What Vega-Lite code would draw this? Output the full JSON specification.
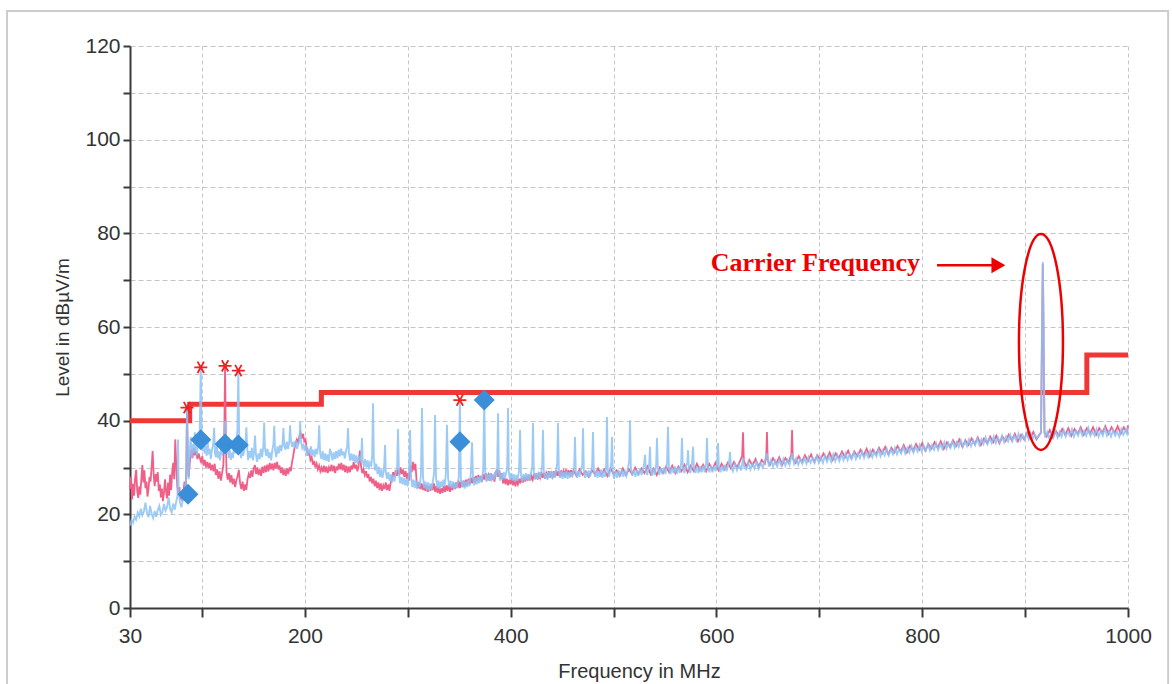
{
"$schema":"https://vega.github.io/schema/vega-lite/v6.json",
"width":998,"height":562,
"autosize":{"type":"none"},
"padding":{"left":130,"top":46,"right":44,"bottom":76},
"background":"white",
"config":{"view":{"stroke":null},"font":"Liberation Sans"},
"datasets":{
"one":[{}],
"limit":[{"f":30,"L":40},{"f":88,"L":43.5},{"f":216,"L":46},{"f":960,"L":54},{"f":1000,"L":54}],
"finals":[{"f":86.4,"L":24.3},{"f":98.8,"L":35.9},{"f":122.4,"L":35},{"f":135.3,"L":34.8},{"f":350.6,"L":35.5},{"f":374.3,"L":44.4}],
"peaks":[{"f":85.4,"L":42.8},{"f":98.8,"L":51.4},{"f":122.4,"L":51.7},{"f":135.3,"L":50.7},{"f":350.6,"L":44.4}],
"hor":[
{"f":30,"L":25.5},{"f":31,"L":28},{"f":32,"L":23.2},{"f":33,"L":26.5},{"f":34,"L":24},{"f":35,"L":27.8},{"f":36,"L":29.5},{"f":37,"L":25},{"f":38,"L":23.5},{"f":39,"L":26},{"f":40,"L":24.2},{"f":41,"L":27.5},{"f":42,"L":30.5},{"f":43,"L":26.8},{"f":44,"L":29.4},{"f":45,"L":25.6},{"f":46,"L":27},{"f":47,"L":23.8},{"f":48,"L":25.5},{"f":49,"L":28},{"f":50,"L":27},{"f":51,"L":30},{"f":52,"L":33.5},{"f":53,"L":28.5},{"f":54,"L":26},{"f":55,"L":28.6},{"f":56,"L":27},{"f":57,"L":29},{"f":58,"L":25},{"f":59,"L":26.4},{"f":60,"L":23.6},{"f":61,"L":25.5},{"f":62,"L":22.8},{"f":63,"L":24.6},{"f":64,"L":27.5},{"f":65,"L":25},{"f":66,"L":23.4},{"f":67,"L":26.8},{"f":68,"L":24},{"f":69,"L":28.5},{"f":70,"L":25.2},{"f":71,"L":29},{"f":72,"L":31},{"f":73,"L":27.5},{"f":74,"L":36},{"f":75,"L":30},{"f":76,"L":26},{"f":77,"L":24},{"f":78,"L":25.8},{"f":79,"L":23.2},{"f":80,"L":24.8},{"f":81,"L":22.8},{"f":82,"L":25},{"f":83,"L":27},{"f":84,"L":24.5},{"f":84.8,"L":30},{"f":85.4,"L":42.8},{"f":86.2,"L":31},{"f":87,"L":28},
{"f":88.3,"L":31.5},{"f":89.5,"L":33.8},{"f":90.7,"L":32},{"f":91.9,"L":34.2},{"f":93.1,"L":32.6},{"f":94.3,"L":33.5},{"f":95.5,"L":31.8},{"f":96.7,"L":33},{"f":97.9,"L":32},{"f":99.1,"L":31.2},{"f":100.3,"L":32.4},{"f":101.5,"L":30.4},{"f":102.7,"L":31.6},{"f":103.9,"L":30},{"f":105.1,"L":31.2},{"f":106.3,"L":29.8},{"f":107.5,"L":31},{"f":108.7,"L":29.4},{"f":109.9,"L":30.6},{"f":111.1,"L":29.2},{"f":112.3,"L":30.8},{"f":113.5,"L":28.4},{"f":114.7,"L":29.6},{"f":115.9,"L":27.6},{"f":117.1,"L":29.2},{"f":118.3,"L":27.2},{"f":119.5,"L":28.8},{"f":120.7,"L":30.5},{"f":121.7,"L":38},{"f":122.4,"L":51.7},{"f":123.1,"L":37},{"f":123.8,"L":29},{"f":125,"L":27.4},{"f":126.2,"L":28.8},{"f":127.4,"L":26.8},{"f":128.6,"L":28.4},{"f":129.8,"L":26.4},{"f":131,"L":27.6},{"f":132.2,"L":25.8},{"f":133.4,"L":27.2},{"f":134.6,"L":28.2},{"f":135.8,"L":29.5},{"f":137,"L":26.6},{"f":138.2,"L":25.4},{"f":139.4,"L":27},{"f":140.6,"L":25},{"f":141.8,"L":26.4},{"f":143,"L":25.2},{"f":144.2,"L":27.4},{"f":145.4,"L":28.6},{"f":146.6,"L":27.8},{"f":147.8,"L":29.4},{"f":149,"L":28},{"f":150.2,"L":29.8},{"f":151.4,"L":30.5},{"f":152.6,"L":28.6},{"f":153.8,"L":30},{"f":155,"L":28.4},{"f":156.2,"L":29.6},{"f":157.4,"L":28.2},{"f":158.6,"L":30.2},{"f":159.8,"L":28.8},{"f":161,"L":30.4},{"f":162.2,"L":29},{"f":163.4,"L":30.6},{"f":164.6,"L":29.2},{"f":165.8,"L":31},{"f":167,"L":29.6},{"f":168.2,"L":30.8},{"f":169.4,"L":29.4},{"f":170.6,"L":31},{"f":171.8,"L":29.8},{"f":173,"L":31.2},{"f":174.2,"L":29.6},{"f":175.4,"L":30.4},{"f":176.6,"L":28.8},{"f":177.8,"L":30},{"f":179,"L":28.4},{"f":180.2,"L":29.6},{"f":181.4,"L":28.2},{"f":182.6,"L":29.8},{"f":183.8,"L":28.6},{"f":185,"L":30},{"f":186.2,"L":29.2},{"f":187.4,"L":31},{"f":188.6,"L":32.4},{"f":189.8,"L":34},{"f":191,"L":35.2},{"f":192.2,"L":36},{"f":193.4,"L":35.4},{"f":194.6,"L":36.6},{"f":195.8,"L":37.4},{"f":197,"L":36.2},{"f":198.2,"L":37.2},{"f":199.4,"L":35.6},{"f":200.6,"L":36},{"f":201.8,"L":34},{"f":203,"L":32.6},{"f":204.2,"L":33.4},{"f":205.4,"L":31.6},{"f":206.6,"L":32.2},{"f":207.8,"L":30.6},{"f":209,"L":31.4},{"f":210.2,"L":30},{"f":211.4,"L":30.8},{"f":212.6,"L":29.6},{"f":213.8,"L":30.4},{"f":215,"L":29.2},{"f":216.2,"L":30},{"f":217.4,"L":29},{"f":218.6,"L":30.4},{"f":219.8,"L":29},{"f":221,"L":30.2},{"f":222.2,"L":28.8},{"f":223.4,"L":30},{"f":224.6,"L":29.2},{"f":225.8,"L":30.6},{"f":227,"L":29.2},{"f":228.2,"L":30.4},{"f":229.4,"L":28.8},{"f":230.6,"L":30.2},{"f":231.8,"L":29.4},{"f":233,"L":30.8},{"f":234.2,"L":29.6},{"f":235.4,"L":31},{"f":236.6,"L":29.4},{"f":237.8,"L":30.6},{"f":239,"L":29},{"f":240.2,"L":30.4},{"f":241.4,"L":28.8},{"f":242.6,"L":30.2},{"f":243.8,"L":29},{"f":245,"L":30.4},{"f":246.2,"L":29.6},{"f":247.4,"L":31.2},{"f":248.6,"L":29.8},{"f":249.8,"L":30.6},{"f":251,"L":29.2},{"f":252.2,"L":30.4},{"f":253.4,"L":33.6},{"f":254.6,"L":30.2},{"f":255.8,"L":28.8},{"f":257,"L":29.6},{"f":258.2,"L":28.4},{"f":259.4,"L":29.2},{"f":260.6,"L":27.8},{"f":261.8,"L":28.6},{"f":263,"L":27},{"f":264.2,"L":28},{"f":265.4,"L":26.6},{"f":266.6,"L":27.6},{"f":267.8,"L":26},{"f":269,"L":27.2},{"f":270.2,"L":25.6},{"f":271.4,"L":26.8},{"f":272.6,"L":25.2},{"f":273.8,"L":26.6},{"f":275,"L":25},{"f":276.2,"L":26.2},{"f":277.4,"L":25.4},{"f":278.6,"L":26.8},{"f":279.8,"L":25.2},{"f":281,"L":26.4},{"f":282.2,"L":25},{"f":283.4,"L":26.8},{"f":284.6,"L":27.6},{"f":285.8,"L":29},{"f":287,"L":28},{"f":288.2,"L":29.4},{"f":289.4,"L":28.2},{"f":290.6,"L":29.6},{"f":291.8,"L":28.4},{"f":293,"L":30},{"f":294.2,"L":28.6},{"f":295.4,"L":29.6},{"f":296.6,"L":28},{"f":297.8,"L":29.2},{"f":299,"L":27.6},{"f":300.2,"L":28.8},{"f":301.4,"L":27.2},{"f":302.6,"L":30.4},{"f":303.8,"L":29},{"f":305,"L":31.2},{"f":306.2,"L":29.4},{"f":307.4,"L":30.8},{"f":308.6,"L":27},{"f":309.8,"L":25.6},{"f":311,"L":26.8},{"f":312.2,"L":25.4},{"f":313.4,"L":26.6},{"f":314.6,"L":25.2},{"f":315.8,"L":26.4},{"f":317,"L":25},{"f":318.2,"L":26.2},{"f":319.4,"L":24.8},{"f":320.6,"L":26},{"f":321.8,"L":25},{"f":323,"L":26.4},{"f":324.2,"L":25.2},{"f":325.4,"L":26.6},{"f":326.6,"L":24.8},{"f":327.8,"L":26},{"f":329,"L":24.6},{"f":330.2,"L":25.8},{"f":331.4,"L":24.4},{"f":332.6,"L":25.6},{"f":333.8,"L":24.6},{"f":335,"L":26},{"f":336.2,"L":24.8},{"f":337.4,"L":26.2},{"f":338.6,"L":25},{"f":339.8,"L":26.4},{"f":341,"L":24.8},{"f":342.2,"L":26.2},{"f":343.4,"L":25.2},{"f":344.6,"L":26.6},{"f":345.8,"L":25.4},{"f":347,"L":26.8},{"f":348.2,"L":25.6},{"f":349.4,"L":27.2},{"f":350.6,"L":25.6},{"f":351.8,"L":27},{"f":353,"L":25.8},{"f":354.2,"L":27.2},{"f":355.4,"L":26},{"f":356.6,"L":27.4},{"f":357.8,"L":26.2},{"f":359,"L":27.6},{"f":360.2,"L":26.4},{"f":361.4,"L":27.8},{"f":362.6,"L":26.6},{"f":363.8,"L":28},{"f":365,"L":26.8},{"f":366.2,"L":28.2},{"f":367.4,"L":27},{"f":368.6,"L":28.4},{"f":369.8,"L":27.2},{"f":371,"L":28.2},{"f":372.2,"L":27},{"f":373.4,"L":28.6},{"f":374.6,"L":27.4},{"f":375.8,"L":28.8},{"f":377,"L":27.6},{"f":378.2,"L":28.4},{"f":379.4,"L":27.2},{"f":380.6,"L":28.8},{"f":381.8,"L":27.4},{"f":383,"L":28.4},{"f":384.2,"L":27},{"f":385.4,"L":28.8},{"f":386.6,"L":29.6},{"f":387.8,"L":28},{"f":389,"L":29.4},{"f":390.2,"L":27.6},{"f":391.4,"L":28.8},{"f":392.6,"L":26.6},{"f":393.8,"L":27.8},{"f":395,"L":26.4},{"f":396.2,"L":27.6},{"f":397.4,"L":26.2},{"f":398.6,"L":27.4},{"f":399.8,"L":26.4},{"f":401,"L":27.8},{"f":402.2,"L":26.2},{"f":403.4,"L":27.4},{"f":404.6,"L":26},{"f":405.8,"L":27.2},{"f":407,"L":26.4},{"f":408.2,"L":27.6},{"f":409.4,"L":26.6},{"f":410.6,"L":27.8},{"f":411.8,"L":26.8},{"f":413,"L":28},{"f":414.2,"L":27},{"f":415.4,"L":28.2},{"f":416.6,"L":27.2},{"f":417.8,"L":28.4},{"f":419,"L":27.2},{"f":420.2,"L":28.2},{"f":421.4,"L":27.4},{"f":422.6,"L":28.6},{"f":423.8,"L":27.6},{"f":425,"L":28.8},{"f":426.2,"L":27.4},{"f":427.4,"L":28.6},{"f":428.6,"L":27.8},{"f":429.8,"L":29},{"f":431,"L":27.8},{"f":432.2,"L":28.8},{"f":433.4,"L":27.6},{"f":434.6,"L":28.8},{"f":435.8,"L":28},{"f":437,"L":29.2},{"f":438.2,"L":27.8},{"f":439.4,"L":28.8},{"f":440.6,"L":28},{"f":441.8,"L":29.2},{"f":443,"L":28},{"f":444.2,"L":29.4},{"f":445.4,"L":28.2},{"f":446.6,"L":29.2},{"f":447.8,"L":28},{"f":449,"L":29.4},{"f":450.2,"L":28.2},{"f":451.4,"L":29.2},{"f":452.6,"L":28.4},{"f":453.8,"L":29.6},{"f":455,"L":28.4},{"f":456.2,"L":29.4},{"f":457.4,"L":28.2},{"f":458.6,"L":29.4},{"f":459.8,"L":28.4},
{"f":461,"L":29.4},{"f":464,"L":28.2},{"f":467,"L":29.6},{"f":470,"L":28.4},{"f":473,"L":29.2},{"f":476,"L":28},{"f":479,"L":29.4},{"f":482,"L":28.6},{"f":485,"L":29.8},{"f":488,"L":28.4},{"f":491,"L":29.6},{"f":494,"L":28.2},{"f":497,"L":29.8},{"f":500,"L":28.6},{"f":503,"L":29.4},{"f":506,"L":28.2},{"f":509,"L":29.8},{"f":512,"L":28.4},{"f":515,"L":29.6},{"f":518,"L":28.6},{"f":521,"L":30},{"f":524,"L":28.6},{"f":527,"L":29.8},{"f":530,"L":28.8},{"f":533,"L":30.2},{"f":536,"L":28.6},{"f":539,"L":29.8},{"f":542,"L":28.4},{"f":545,"L":30},{"f":548,"L":28.8},{"f":551,"L":30.2},{"f":554,"L":29},{"f":557,"L":30.4},{"f":560,"L":28.8},{"f":563,"L":30.2},{"f":566,"L":29.2},{"f":569,"L":30.6},{"f":572,"L":29},{"f":575,"L":30.4},{"f":578,"L":29.2},{"f":581,"L":30.8},{"f":584,"L":29.4},{"f":587,"L":30.6},{"f":590,"L":29.2},{"f":593,"L":30.8},{"f":596,"L":29.6},{"f":599,"L":31},{"f":602,"L":29.4},{"f":605,"L":30.8},{"f":608,"L":29.6},{"f":611,"L":31},{"f":614,"L":29.8},{"f":617,"L":31.2},{"f":620,"L":30},{"f":623,"L":31.4},{"f":625,"L":32.5},{"f":625.8,"L":37.5},{"f":626.6,"L":31.5},{"f":629,"L":30.2},{"f":632,"L":31.6},{"f":635,"L":30.4},{"f":638,"L":31.8},{"f":641,"L":30.2},{"f":644,"L":31.6},{"f":647,"L":30.8},{"f":648.4,"L":32.5},{"f":649.1,"L":37.6},{"f":649.8,"L":31.5},{"f":652,"L":30.6},{"f":655,"L":32},{"f":658,"L":30.8},{"f":661,"L":32.2},{"f":664,"L":30.6},{"f":667,"L":32},{"f":670,"L":31},{"f":672.8,"L":32.8},{"f":673.5,"L":38},{"f":674.2,"L":32},{"f":677,"L":31},{"f":680,"L":32.4},{"f":683,"L":31.2},{"f":686,"L":32.6},{"f":689,"L":31.4},{"f":692,"L":32.8},{"f":695,"L":31.2},{"f":698,"L":32.6},{"f":701,"L":31.6},{"f":704,"L":33},{"f":707,"L":31.8},{"f":710,"L":33.2},{"f":713,"L":31.6},{"f":716,"L":33},{"f":719,"L":32},{"f":722,"L":33.4},{"f":725,"L":32.2},{"f":728,"L":33.6},{"f":731,"L":32},{"f":734,"L":33.4},{"f":737,"L":32.4},{"f":740,"L":33.8},{"f":743,"L":32.6},{"f":746,"L":34},{"f":749,"L":32.4},{"f":752,"L":33.8},{"f":755,"L":32.8},{"f":758,"L":34.2},{"f":761,"L":33},{"f":764,"L":34.4},{"f":767,"L":32.8},{"f":770,"L":34.2},{"f":773,"L":33.2},{"f":776,"L":34.6},{"f":779,"L":33.4},{"f":782,"L":34.8},{"f":785,"L":33.2},{"f":788,"L":34.6},{"f":791,"L":33.6},{"f":794,"L":35},{"f":797,"L":33.8},{"f":800,"L":35.2},{"f":803,"L":33.6},{"f":806,"L":35},{"f":809,"L":34},{"f":812,"L":35.4},{"f":815,"L":34.2},{"f":818,"L":35.6},{"f":821,"L":34},{"f":824,"L":35.4},{"f":827,"L":34.4},{"f":830,"L":35.8},{"f":833,"L":34.6},{"f":836,"L":36},{"f":839,"L":34.4},{"f":842,"L":35.8},{"f":845,"L":34.8},{"f":848,"L":36.2},{"f":851,"L":35},{"f":854,"L":36.4},{"f":857,"L":34.8},{"f":860,"L":36.2},{"f":863,"L":35.2},{"f":866,"L":36.6},{"f":869,"L":35.4},{"f":872,"L":36.8},{"f":875,"L":35.2},{"f":878,"L":36.6},{"f":881,"L":35.6},{"f":884,"L":37},{"f":887,"L":35.8},{"f":890,"L":37.2},{"f":893,"L":35.6},{"f":896,"L":37},{"f":899,"L":36},{"f":902,"L":37.4},{"f":905,"L":36.2},{"f":908,"L":37.6},{"f":911,"L":36},{"f":914,"L":37},{"f":915.5,"L":37.5},{"f":916.5,"L":60},{"f":917.2,"L":73.5},{"f":917.8,"L":62},{"f":918.8,"L":37.5},{"f":921,"L":36.6},{"f":924,"L":38},{"f":927,"L":36.4},{"f":930,"L":37.8},{"f":933,"L":36.8},{"f":936,"L":38.2},{"f":939,"L":37},{"f":942,"L":38.4},{"f":945,"L":36.8},{"f":948,"L":38.2},{"f":951,"L":37.2},{"f":954,"L":38.6},{"f":957,"L":37},{"f":960,"L":38.4},{"f":963,"L":37.2},{"f":966,"L":38.6},{"f":969,"L":37},{"f":972,"L":38.4},{"f":975,"L":37.4},{"f":978,"L":38.8},{"f":981,"L":37.2},{"f":984,"L":38.6},{"f":987,"L":37.4},{"f":990,"L":38.8},{"f":993,"L":37.2},{"f":996,"L":38.6},{"f":999,"L":37.6},{"f":1000,"L":39}],
"ver":[
{"f":30,"L":17.6},{"f":31.5,"L":18.8},{"f":33,"L":18.2},{"f":34.5,"L":19.5},{"f":36,"L":18.9},{"f":37.5,"L":20.4},{"f":39,"L":19.6},{"f":40.5,"L":21.2},{"f":42,"L":19.8},{"f":43.5,"L":20.6},{"f":45,"L":22.5},{"f":46.5,"L":20.3},{"f":48,"L":19.4},{"f":49.5,"L":21.8},{"f":51,"L":20.1},{"f":52.5,"L":19.2},{"f":54,"L":20.7},{"f":55.5,"L":19.5},{"f":57,"L":20.9},{"f":58.5,"L":21.8},{"f":60,"L":19.9},{"f":61.5,"L":20.5},{"f":63,"L":22.2},{"f":64.5,"L":20.8},{"f":66,"L":21.5},{"f":67.5,"L":23.6},{"f":69,"L":21.2},{"f":70.5,"L":20.4},{"f":72,"L":22.3},{"f":73.5,"L":21},{"f":75,"L":22.8},{"f":76.2,"L":24},{"f":76.7,"L":36},{"f":77.3,"L":25},{"f":78.5,"L":22.6},{"f":80,"L":21.5},{"f":81.5,"L":23.4},{"f":83,"L":24.9},{"f":84.5,"L":27.5},{"f":85.5,"L":43},{"f":86.3,"L":30},{"f":87,"L":27.5},{"f":88,"L":33.5},{"f":89,"L":36.5},{"f":90,"L":32},{"f":91,"L":35},{"f":92,"L":33},{"f":93,"L":37.5},{"f":94,"L":33.8},{"f":95,"L":32.6},{"f":96,"L":35},{"f":97.8,"L":38},{"f":98.8,"L":51.4},{"f":99.6,"L":37},{"f":100.6,"L":33.5},{"f":101.5,"L":36.5},{"f":102.5,"L":33},{"f":103.5,"L":34.6},{"f":104.5,"L":32.5},{"f":105.5,"L":35.5},{"f":106.5,"L":32.8},{"f":107.5,"L":34},{"f":108.5,"L":31.8},{"f":109.5,"L":33.5},{"f":110.8,"L":35},{"f":111.8,"L":38.5},{"f":112.6,"L":33},{"f":113.5,"L":32.2},{"f":114.5,"L":34.8},{"f":115.5,"L":32},{"f":116.5,"L":33.4},{"f":117.5,"L":31.5},{"f":118.5,"L":34},{"f":119.5,"L":32.6},{"f":120.5,"L":35},{"f":121.5,"L":36},{"f":122.4,"L":40},{"f":123.2,"L":35.5},{"f":124,"L":33},{"f":125,"L":34.6},{"f":126,"L":32},{"f":127,"L":33.8},{"f":128,"L":31.6},{"f":129,"L":33.2},{"f":130,"L":32},{"f":131,"L":34.5},{"f":132,"L":33},{"f":133,"L":35.2},{"f":134.4,"L":38},{"f":135.3,"L":50.6},{"f":136.1,"L":36.5},{"f":137,"L":33.5},{"f":138,"L":32},{"f":139,"L":34.2},{"f":140,"L":32.5},{"f":141,"L":33.6},{"f":142.2,"L":35},{"f":143.1,"L":38.6},{"f":144,"L":33.8},{"f":144.8,"L":31.6},{"f":146,"L":33.5},{"f":147.2,"L":32},{"f":148.4,"L":34.2},{"f":149.6,"L":31.5},{"f":150.6,"L":33.5},{"f":151.5,"L":36.8},{"f":152.4,"L":32.8},{"f":153.5,"L":31.2},{"f":154.8,"L":33},{"f":156,"L":31.8},{"f":157.2,"L":34},{"f":158.4,"L":32.2},{"f":159.6,"L":34.6},{"f":160.4,"L":39.6},{"f":161.2,"L":34},{"f":162.4,"L":32.5},{"f":163.6,"L":34},{"f":164.8,"L":32},{"f":166,"L":33.2},{"f":167.2,"L":31.5},{"f":168.4,"L":33.8},{"f":169.4,"L":35},{"f":170.2,"L":38.9},{"f":171,"L":33.6},{"f":172.2,"L":32.2},{"f":173.4,"L":34.5},{"f":174.6,"L":33},{"f":175.8,"L":34.8},{"f":177,"L":33.5},{"f":178.2,"L":35},{"f":179.1,"L":38.4},{"f":180,"L":34.6},{"f":181.2,"L":33.8},{"f":182.4,"L":35.5},{"f":183.6,"L":34},{"f":184.8,"L":35.4},{"f":185.6,"L":39},{"f":186.4,"L":35.8},{"f":187.6,"L":34.4},{"f":188.8,"L":35.5},{"f":190,"L":34.2},{"f":191.2,"L":35.8},{"f":192.4,"L":34},{"f":193.6,"L":35},{"f":194.6,"L":35.6},{"f":195.4,"L":39.7},{"f":196.2,"L":35.5},{"f":197.4,"L":34.2},{"f":198.6,"L":35},{"f":199.8,"L":33.5},{"f":201,"L":34.8},{"f":202.2,"L":32.5},{"f":203.4,"L":34},{"f":204.6,"L":32.8},{"f":205.8,"L":34.5},{"f":207,"L":32.6},{"f":208.2,"L":33.8},{"f":209.4,"L":32.2},{"f":210.6,"L":34},{"f":211.8,"L":32.8},{"f":213,"L":34.5},{"f":213.9,"L":39},{"f":214.8,"L":33},{"f":216,"L":31.8},{"f":217.2,"L":33.5},{"f":218.4,"L":31.6},{"f":219.6,"L":33},{"f":220.8,"L":31.4},{"f":222,"L":32.8},{"f":223.2,"L":31.2},{"f":224.4,"L":34},{"f":225.6,"L":33},{"f":226.8,"L":31.5},{"f":228,"L":33.2},{"f":229.2,"L":31.8},{"f":230.4,"L":33.5},{"f":231.6,"L":32},{"f":232.8,"L":33.8},{"f":234,"L":32.4},{"f":235.2,"L":34},{"f":236.4,"L":32.6},{"f":237.6,"L":33.4},{"f":238.8,"L":31.9},{"f":240,"L":33.6},{"f":241.1,"L":34.5},{"f":241.9,"L":38.4},{"f":242.8,"L":33},{"f":244,"L":31.5},{"f":245.2,"L":33},{"f":246.4,"L":31.4},{"f":247.6,"L":32.8},{"f":248.8,"L":31},{"f":250,"L":32.6},{"f":251.2,"L":30.8},{"f":252.4,"L":32.2},{"f":253.6,"L":31.6},{"f":254.8,"L":33},{"f":255.5,"L":36.3},{"f":256.2,"L":31.5},{"f":257.4,"L":30.2},{"f":258.6,"L":31.8},{"f":259.8,"L":30},{"f":261,"L":31.5},{"f":262.2,"L":29.6},{"f":263.4,"L":31},{"f":264.6,"L":30.5},{"f":265.4,"L":33},{"f":266.2,"L":43.7},{"f":267,"L":32},{"f":268.2,"L":29.4},{"f":269.4,"L":30.8},{"f":270.6,"L":28.6},{"f":271.8,"L":30.2},{"f":273,"L":28},{"f":274.2,"L":29.6},{"f":275.4,"L":27.8},{"f":276.6,"L":29.2},{"f":277.2,"L":31},{"f":277.9,"L":34.8},{"f":278.6,"L":29},{"f":279.8,"L":27.6},{"f":281,"L":29},{"f":282.2,"L":27.2},{"f":283.4,"L":28.6},{"f":284.6,"L":26.8},{"f":285.8,"L":28.4},{"f":287,"L":27},{"f":288.2,"L":28.6},{"f":289.6,"L":30},{"f":290.5,"L":38.2},{"f":291.4,"L":28.8},{"f":292.6,"L":26.6},{"f":293.8,"L":28},{"f":295,"L":26.4},{"f":296.2,"L":27.8},{"f":297.4,"L":26.2},{"f":298.6,"L":27.6},{"f":299.8,"L":26},{"f":301.2,"L":29},{"f":302.2,"L":38},{"f":303.2,"L":28},{"f":304.4,"L":25.8},{"f":305.6,"L":27.4},{"f":306.8,"L":25.6},{"f":308,"L":27.2},{"f":309.2,"L":25.4},{"f":310.4,"L":27},{"f":311.6,"L":25.8},{"f":312.8,"L":28.5},{"f":313.8,"L":42.7},{"f":314.8,"L":28},{"f":316,"L":25.6},{"f":317.2,"L":27},{"f":318.4,"L":25.2},{"f":319.6,"L":26.8},{"f":320.8,"L":25},{"f":322,"L":26.6},{"f":323.2,"L":25.4},{"f":324.4,"L":27},{"f":325.6,"L":29},{"f":326.5,"L":41.2},{"f":327.4,"L":28},{"f":328.6,"L":25.6},{"f":329.8,"L":27.2},{"f":331,"L":25.4},{"f":332.2,"L":27},{"f":333.4,"L":25.8},{"f":334.6,"L":27.4},{"f":335.8,"L":26},{"f":337,"L":28.5},{"f":338.1,"L":39.1},{"f":339.2,"L":27.6},{"f":340.4,"L":25.8},{"f":341.6,"L":27.2},{"f":342.8,"L":25.6},{"f":344,"L":27},{"f":345.2,"L":25.4},{"f":346.4,"L":26.8},{"f":347.6,"L":25.6},{"f":349.6,"L":28},{"f":350.6,"L":44},{"f":351.6,"L":27.5},{"f":352.8,"L":25.8},{"f":354,"L":27.2},{"f":355.2,"L":25.5},{"f":356.4,"L":27},{"f":357.6,"L":25.8},{"f":358.8,"L":27.4},{"f":360,"L":26},{"f":361.4,"L":29},{"f":362.4,"L":35.4},{"f":363.4,"L":28},{"f":364.6,"L":26.2},{"f":365.8,"L":27.8},{"f":367,"L":26.4},{"f":368.2,"L":28},{"f":369.4,"L":26.6},{"f":370.6,"L":28.2},{"f":371.8,"L":26.8},{"f":373.3,"L":29.5},{"f":374.3,"L":44.4},{"f":375.3,"L":29},{"f":376.4,"L":27},{"f":377.6,"L":28.6},{"f":378.8,"L":27.2},{"f":380,"L":28.8},{"f":381.2,"L":27},{"f":382.4,"L":28.6},{"f":383.6,"L":27.4},{"f":384.8,"L":29},{"f":386,"L":28},{"f":386.9,"L":30},{"f":387.7,"L":41.6},{"f":388.5,"L":29},{"f":389.7,"L":27.2},{"f":390.9,"L":28.8},{"f":392.1,"L":27.4},{"f":393.3,"L":29},{"f":394.5,"L":27.6},{"f":395.7,"L":29},{"f":396.6,"L":30},{"f":397.4,"L":42.7},{"f":398.2,"L":29},{"f":399.4,"L":27.4},{"f":400.6,"L":28.8},{"f":401.8,"L":27.2},{"f":403,"L":28.6},{"f":404.2,"L":27},{"f":405.4,"L":28.4},{"f":406.6,"L":27.2},{"f":408.2,"L":29.5},{"f":409.1,"L":38},{"f":410,"L":28.5},{"f":411.2,"L":27},{"f":412.4,"L":28.6},{"f":413.6,"L":27.2},{"f":414.8,"L":28.8},{"f":416,"L":27.4},{"f":417.2,"L":28.6},{"f":418.4,"L":27.2},{"f":419.6,"L":28.8},{"f":420.9,"L":30},{"f":421.7,"L":39.5},{"f":422.5,"L":29},{"f":423.7,"L":27.4},{"f":424.9,"L":28.8},{"f":426.1,"L":27.6},{"f":427.3,"L":29},{"f":428.5,"L":27.8},{"f":429.7,"L":29},{"f":430.6,"L":30.5},{"f":431.4,"L":38},{"f":432.2,"L":29},{"f":433.4,"L":27.6},{"f":434.6,"L":28.8},{"f":435.8,"L":27.4},{"f":437,"L":29},{"f":438.2,"L":27.8},{"f":439.4,"L":29.2},{"f":440.6,"L":27.6},{"f":441.8,"L":29},{"f":443,"L":27.8},{"f":444.2,"L":29.4},{"f":445.2,"L":31},{"f":446,"L":39.5},{"f":446.8,"L":29.5},{"f":448,"L":27.8},{"f":449.2,"L":29.2},{"f":450.4,"L":27.6},{"f":451.6,"L":29},{"f":452.8,"L":27.8},{"f":454,"L":29.2},{"f":455.2,"L":27.6},{"f":456.4,"L":29},{"f":457.6,"L":27.8},{"f":458.8,"L":29},{"f":460,"L":28},{"f":461.7,"L":30},{"f":462.5,"L":36.5},{"f":463.3,"L":29},{"f":464.5,"L":27.8},{"f":465.7,"L":29.2},{"f":466.9,"L":28},{"f":468.1,"L":29.4},{"f":469.5,"L":30.5},{"f":470.3,"L":38.4},{"f":471.1,"L":29.5},{"f":472.3,"L":27.8},{"f":473.5,"L":29.2},{"f":474.7,"L":28},{"f":475.9,"L":29.4},{"f":477.1,"L":28},{"f":478.3,"L":29.2},{"f":479.2,"L":30.5},{"f":480,"L":37.6},{"f":480.8,"L":29.5},{"f":482,"L":28},{"f":483.2,"L":29.4},{"f":484.4,"L":27.8},{"f":485.6,"L":29.2},{"f":486.8,"L":28},{"f":488,"L":29.6},{"f":489.2,"L":27.8},{"f":490.4,"L":29.2},{"f":491.6,"L":28},{"f":492.8,"L":30.5},{"f":493.6,"L":40.8},{"f":494.4,"L":29.5},{"f":495.6,"L":28},{"f":496.8,"L":29.5},{"f":497.7,"L":31},{"f":498.5,"L":36.5},{"f":499.3,"L":29},{"f":500.5,"L":27.6},
{"f":502,"L":29.2},{"f":503.5,"L":27.8},{"f":505,"L":29.4},{"f":506.5,"L":28},{"f":508,"L":29.6},{"f":509.5,"L":28},{"f":511,"L":29.2},{"f":512.5,"L":28.2},{"f":514,"L":29.8},{"f":515.2,"L":31.5},{"f":516,"L":40.1},{"f":516.8,"L":30},{"f":518.2,"L":28.2},{"f":519.7,"L":29.6},{"f":521.2,"L":28},{"f":522.7,"L":29.4},{"f":524.2,"L":28.2},{"f":525.7,"L":29.8},{"f":527.2,"L":28.4},{"f":528.7,"L":29.6},{"f":529.8,"L":31},{"f":530.6,"L":32.7},{"f":531.4,"L":29.5},{"f":532.6,"L":28.4},{"f":533.8,"L":29.6},{"f":534.7,"L":31},{"f":535.4,"L":34.4},{"f":536.1,"L":29.6},{"f":537.4,"L":28.2},{"f":538.8,"L":29.8},{"f":540.2,"L":28.4},{"f":541.4,"L":30.5},{"f":542.2,"L":36.3},{"f":543,"L":30},{"f":544.4,"L":28.4},{"f":545.9,"L":29.8},{"f":547.4,"L":28.6},{"f":548.9,"L":30},{"f":550.4,"L":28.6},{"f":552,"L":31},{"f":552.9,"L":38.7},{"f":553.8,"L":30},{"f":555.3,"L":28.6},{"f":556.8,"L":30},{"f":558.3,"L":28.8},{"f":559.8,"L":30.2},{"f":561.3,"L":28.6},{"f":562.8,"L":30},{"f":564.3,"L":28.8},{"f":565.7,"L":31},{"f":566.5,"L":36.3},{"f":567.3,"L":30},{"f":568.8,"L":28.8},{"f":570.3,"L":30.2},{"f":571.7,"L":31},{"f":572.4,"L":33.7},{"f":573.1,"L":30},{"f":574.6,"L":28.8},{"f":576.3,"L":31},{"f":577.2,"L":34.4},{"f":578.1,"L":30},{"f":579.6,"L":28.8},{"f":581.1,"L":30.2},{"f":582.6,"L":28.8},{"f":584.1,"L":30.2},{"f":585.6,"L":29},{"f":587.1,"L":30.4},{"f":588.6,"L":29},{"f":590,"L":31},{"f":590.8,"L":36.3},{"f":591.6,"L":30.2},{"f":593.1,"L":29},{"f":594.6,"L":30.4},{"f":596.1,"L":29},{"f":597.6,"L":30.4},{"f":599.1,"L":29.2},{"f":600.7,"L":31},{"f":601.5,"L":35.2},{"f":602.3,"L":30.2},{"f":603.8,"L":29},{"f":605.3,"L":30.4},{"f":606.8,"L":29.2},{"f":608.3,"L":30.6},{"f":609.8,"L":29.2},{"f":611.3,"L":30.4},{"f":612.5,"L":31.5},{"f":613.2,"L":33.3},{"f":614,"L":30.4},{"f":616,"L":29.2},{"f":618,"L":30.8},{"f":620,"L":29.4},{"f":622,"L":30.6},{"f":624,"L":29.4},{"f":625.8,"L":32},{"f":627,"L":30},{"f":629,"L":29.6},{"f":631,"L":31},{"f":633,"L":29.6},{"f":635,"L":30.8},{"f":637,"L":29.8},{"f":639,"L":31.2},{"f":641,"L":29.8},{"f":643,"L":31},{"f":645,"L":30},{"f":647,"L":31.4},{"f":649.1,"L":33},{"f":651,"L":30.2},{"f":653,"L":31.6},{"f":655,"L":30.2},{"f":657,"L":31.4},{"f":659,"L":30.2},{"f":661,"L":31.6},{"f":663,"L":30.4},{"f":665,"L":31.8},{"f":667,"L":30.4},{"f":669,"L":31.6},{"f":671,"L":30.6},{"f":673.5,"L":33},{"f":675.5,"L":30.8},{"f":677.5,"L":32},{"f":679.5,"L":30.6},{"f":681.5,"L":31.8},{"f":683.5,"L":30.8},{"f":685.5,"L":32},{"f":687.5,"L":30.8},{"f":689.5,"L":32.2},{"f":691.5,"L":31},{"f":693.5,"L":32},{"f":695.5,"L":31},{"f":697.5,"L":32.4},{"f":699.5,"L":31},{"f":701.5,"L":32.2},{"f":703.5,"L":31},{"f":705.5,"L":32.6},{"f":707.5,"L":31.2},{"f":709.5,"L":32.4},{"f":711.5,"L":31.2},{"f":713.5,"L":32.8},{"f":715.5,"L":31.4},{"f":717.5,"L":32.6},{"f":719.5,"L":31.4},{"f":721.5,"L":32.8},{"f":723.5,"L":31.6},{"f":725.5,"L":33},{"f":727.5,"L":31.6},{"f":729.5,"L":32.8},{"f":731.5,"L":31.8},{"f":733.5,"L":33.2},{"f":735.5,"L":31.8},{"f":737.5,"L":33},{"f":739.5,"L":32},{"f":741.5,"L":33.4},{"f":743.5,"L":32},{"f":745.5,"L":33.2},{"f":747.5,"L":32.2},{"f":749.5,"L":33.6},{"f":751.5,"L":32.2},{"f":753.5,"L":33.4},{"f":755.5,"L":32.4},{"f":757.5,"L":33.8},{"f":759.5,"L":32.4},{"f":761.5,"L":33.6},{"f":763.5,"L":32.6},{"f":765.5,"L":34},{"f":767.5,"L":32.6},{"f":769.5,"L":33.8},{"f":771.5,"L":32.8},{"f":773.5,"L":34.2},{"f":775.5,"L":32.8},{"f":777.5,"L":34},{"f":779.5,"L":33},{"f":781.5,"L":34.4},{"f":783.5,"L":33},{"f":785.5,"L":34.2},{"f":787.5,"L":33.2},{"f":789.5,"L":34.6},{"f":791.5,"L":33.2},{"f":793.5,"L":34.4},{"f":795.5,"L":33.4},{"f":797.5,"L":34.8},{"f":799.5,"L":33.4},{"f":801.5,"L":34.6},{"f":803.5,"L":33.6},{"f":805.5,"L":35},{"f":807.5,"L":33.6},{"f":809.5,"L":34.8},{"f":811.5,"L":33.8},{"f":813.5,"L":35.2},{"f":815.5,"L":33.8},{"f":817.5,"L":35},{"f":819.5,"L":34},{"f":821.5,"L":35.4},{"f":823.5,"L":34},{"f":825.5,"L":35.2},{"f":827.5,"L":34.2},{"f":829.5,"L":35.6},{"f":831.5,"L":34.2},{"f":833.5,"L":35.4},{"f":835.5,"L":34.4},{"f":837.5,"L":35.8},{"f":839.5,"L":34.4},{"f":841.5,"L":35.6},{"f":843.5,"L":34.6},{"f":845.5,"L":36},{"f":847.5,"L":34.6},{"f":849.5,"L":35.8},{"f":851.5,"L":34.8},{"f":853.5,"L":36.2},{"f":855.5,"L":34.8},{"f":857.5,"L":36},{"f":859.5,"L":35},{"f":861.5,"L":36.4},{"f":863.5,"L":35},{"f":865.5,"L":36.2},{"f":867.5,"L":35.2},{"f":869.5,"L":36.6},{"f":871.5,"L":35.2},{"f":873.5,"L":36.4},{"f":875.5,"L":35.4},{"f":877.5,"L":36.8},{"f":879.5,"L":35.4},{"f":881.5,"L":36.6},{"f":883.5,"L":35.6},{"f":885.5,"L":37},{"f":887.5,"L":35.6},{"f":889.5,"L":36.8},{"f":891.5,"L":35.8},{"f":893.5,"L":37.2},{"f":895.5,"L":35.8},{"f":897.5,"L":37},{"f":899.5,"L":36},{"f":901.5,"L":37.2},{"f":903.5,"L":36},{"f":905.5,"L":37.4},{"f":907.5,"L":36.2},{"f":909.5,"L":37},{"f":911.5,"L":36.2},{"f":913.5,"L":37},{"f":915.4,"L":37.5},{"f":916.4,"L":60},{"f":917.2,"L":73.9},{"f":917.9,"L":62},{"f":918.9,"L":37.5},{"f":919.5,"L":36.4},{"f":921.5,"L":37.6},{"f":923.5,"L":36.2},{"f":925.5,"L":37.4},{"f":927.5,"L":36.4},{"f":929.5,"L":37.8},{"f":931.5,"L":36.4},{"f":933.5,"L":37.6},{"f":935.5,"L":36.6},{"f":937.5,"L":38},{"f":939.5,"L":36.6},{"f":941.5,"L":37.6},{"f":943.5,"L":36.8},{"f":945.5,"L":38.2},{"f":947.5,"L":36.6},{"f":949.5,"L":37.8},{"f":951.5,"L":36.8},{"f":953.5,"L":38.2},{"f":955.5,"L":36.8},{"f":957.5,"L":37.8},{"f":959.5,"L":36.8},{"f":961.5,"L":38.4},{"f":963.5,"L":36.8},{"f":965.5,"L":37.6},{"f":967.5,"L":36.8},{"f":969.5,"L":38.2},{"f":971.5,"L":36.6},{"f":973.5,"L":37.8},{"f":975.5,"L":36.8},{"f":977.5,"L":38.4},{"f":979.5,"L":36.8},{"f":981.5,"L":37.8},{"f":983.5,"L":36.6},{"f":985.5,"L":38},{"f":987.5,"L":36.8},{"f":989.5,"L":37.6},{"f":991.5,"L":36.6},{"f":993.5,"L":38.2},{"f":995.5,"L":37},{"f":997.5,"L":38},{"f":999,"L":37.2},{"f":1000,"L":38.5}]
},
"layer":[
{"data":{"name":"limit"},"mark":{"type":"line","interpolate":"step-after","color":"#ee3838","strokeWidth":5},
 "encoding":{
 "x":{"field":"f","type":"quantitative","scale":{"domain":[30,1000],"nice":false,"zero":false},
  "axis":{"title":"Frequency in MHz","values":[30,100,200,300,400,500,600,700,800,900,1000],"format":"d","labelExpr":"datum.value == 30 || datum.value % 200 == 0 ? datum.label : ''","labelFlush":false,"labelOverlap":false,"grid":true,"gridDash":[4,3],"gridColor":"#c6c6c6","gridWidth":1,"domainColor":"#3a3a3a","domainWidth":2,"tickColor":"#3a3a3a","tickWidth":2,"tickSize":9,"labelFont":"Liberation Sans","labelFontSize":21,"labelColor":"#333333","labelPadding":8,"titleFont":"Liberation Sans","titleFontSize":20,"titleFontWeight":"normal","titleColor":"#333333","titlePadding":15,"titleX":509}},
 "y":{"field":"L","type":"quantitative","scale":{"domain":[0,120],"nice":false,"zero":false},
  "axis":{"title":"Level in dBµV/m","values":[0,10,20,30,40,50,60,70,80,90,100,110,120],"labelExpr":"datum.value % 20 == 0 ? datum.label : ''","labelFlush":false,"labelOverlap":false,"grid":true,"gridDash":[5,3],"gridColor":"#c6c6c6","gridWidth":1,"domainColor":"#3a3a3a","domainWidth":2,"tickColor":"#3a3a3a","tickWidth":2,"tickSize":7,"labelFont":"Liberation Sans","labelFontSize":21,"labelColor":"#333333","labelPadding":3,"titleFont":"Liberation Sans","titleFontSize":19,"titleFontWeight":"normal","titleColor":"#333333","titlePadding":12}}}},
{"data":{"name":"one"},"mark":{"type":"rect","clip":false,"fill":null,"fillOpacity":0,"stroke":"#cccccc","strokeWidth":2},
 "encoding":{"x":{"datum":-89.5,"type":"quantitative","scale":{"domain":[30,1000],"nice":false,"zero":false}},"x2":{"datum":1039},"y":{"datum":127.5,"type":"quantitative","scale":{"domain":[0,120],"nice":false,"zero":false}},"y2":{"datum":-20}}},
{"data":{"name":"hor"},"mark":{"type":"line","color":"#ef5f88","strokeWidth":1.8},
 "encoding":{"x":{"field":"f","type":"quantitative","scale":{"domain":[30,1000],"nice":false,"zero":false}},"y":{"field":"L","type":"quantitative","scale":{"domain":[0,120],"nice":false,"zero":false}}}},
{"data":{"name":"ver"},"mark":{"type":"line","color":"#8cc2f4","strokeWidth":1.9,"opacity":0.85},
 "encoding":{"x":{"field":"f","type":"quantitative","scale":{"domain":[30,1000],"nice":false,"zero":false}},"y":{"field":"L","type":"quantitative","scale":{"domain":[0,120],"nice":false,"zero":false}}}},
{"data":{"name":"finals"},"mark":{"type":"point","shape":"diamond","filled":true,"color":"#3b8ed8","size":441,"opacity":1},
 "encoding":{"x":{"field":"f","type":"quantitative","scale":{"domain":[30,1000],"nice":false,"zero":false}},"y":{"field":"L","type":"quantitative","scale":{"domain":[0,120],"nice":false,"zero":false}}}},
{"data":{"name":"peaks"},"mark":{"type":"point","shape":"M-1,0L1,0M-0.5,-0.87L0.5,0.87M-0.5,0.87L0.5,-0.87","filled":false,"stroke":"#ee2020","strokeWidth":1.8,"size":169,"opacity":1},
 "encoding":{"x":{"field":"f","type":"quantitative","scale":{"domain":[30,1000],"nice":false,"zero":false}},"y":{"field":"L","type":"quantitative","scale":{"domain":[0,120],"nice":false,"zero":false}}}},
{"data":{"name":"one"},"mark":{"type":"point","shape":"M0,-1C0.1125,-1 0.2037,-0.5523 0.2037,0C0.2037,0.5523 0.1125,1 0,1C-0.1125,1 -0.2037,0.5523 -0.2037,0C-0.2037,-0.5523 -0.1125,-1 0,-1Z","filled":false,"stroke":"#ee0000","strokeWidth":2.5,"size":46656,"opacity":1,"clip":false},
 "encoding":{"x":{"datum":915.4,"type":"quantitative","scale":{"domain":[30,1000],"nice":false,"zero":false}},"y":{"datum":56.8,"type":"quantitative","scale":{"domain":[0,120],"nice":false,"zero":false}}}},
{"data":{"name":"one"},"mark":{"type":"rule","color":"#ee0000","strokeWidth":2.5},
 "encoding":{"x":{"datum":814.4,"type":"quantitative","scale":{"domain":[30,1000],"nice":false,"zero":false}},"x2":{"datum":868},"y":{"datum":73.2,"type":"quantitative","scale":{"domain":[0,120],"nice":false,"zero":false}}}},
{"data":{"name":"one"},"mark":{"type":"point","shape":"triangle-right","filled":true,"color":"#ee0000","size":256,"opacity":1},
 "encoding":{"x":{"datum":874,"type":"quantitative","scale":{"domain":[30,1000],"nice":false,"zero":false}},"y":{"datum":73.2,"type":"quantitative","scale":{"domain":[0,120],"nice":false,"zero":false}}}},
{"data":{"name":"one"},"mark":{"type":"text","text":"Carrier Frequency","font":"Liberation Serif","fontWeight":"bold","fontSize":26,"color":"#ee0000","align":"right","baseline":"middle"},
 "encoding":{"x":{"datum":797.8,"type":"quantitative","scale":{"domain":[30,1000],"nice":false,"zero":false}},"y":{"datum":73.6,"type":"quantitative","scale":{"domain":[0,120],"nice":false,"zero":false}}}}
]
}
